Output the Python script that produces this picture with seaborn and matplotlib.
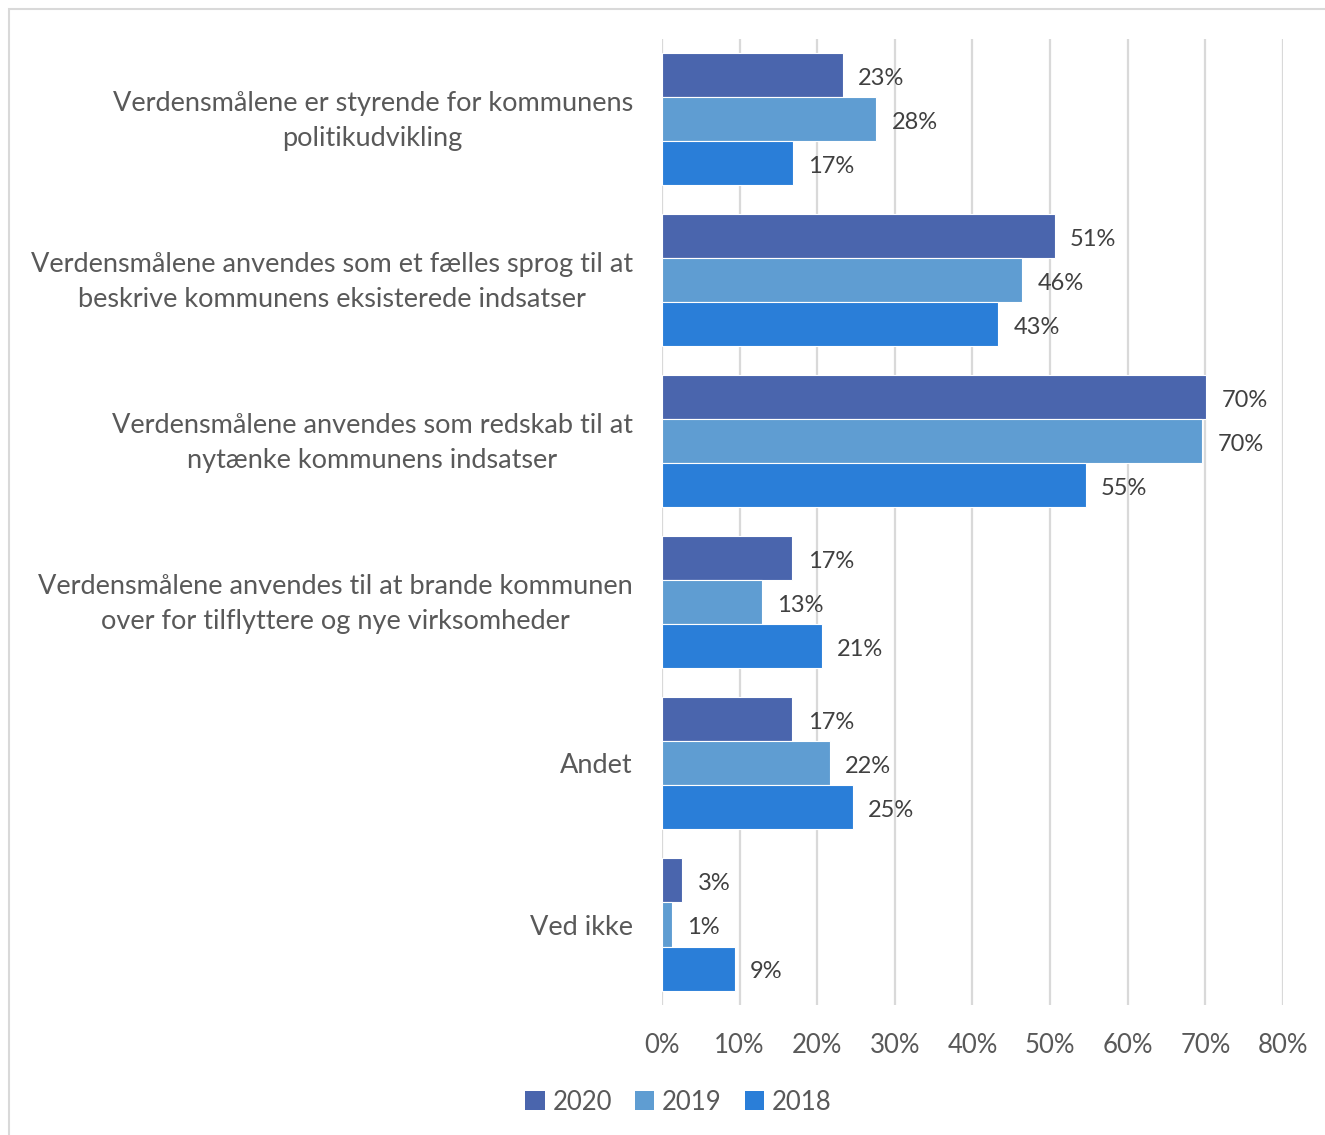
import matplotlib.pyplot as plt
import matplotlib.transforms as mtransforms
import pandas as pd
import seaborn as sns
from matplotlib.patches import Patch, Rectangle

# data
categories = [
    "Verdensmålene er styrende for kommunens\npolitikudvikling",
    "Verdensmålene anvendes som et fælles sprog til at\nbeskrive kommunens eksisterede indsatser",
    "Verdensmålene anvendes som redskab til at\nnytænke kommunens indsatser",
    "Verdensmålene anvendes til at brande kommunen\nover for tilflyttere og nye virksomheder",
    "Andet",
    "Ved ikke",
]
years = ["2020", "2019", "2018"]
values_2020 = [23.3, 50.6, 70.1, 16.8, 16.8, 2.6]
values_2019 = [27.6, 46.4, 69.6, 12.9, 21.6, 1.3]
values_2018 = [16.9, 43.3, 54.6, 20.6, 24.6, 9.4]
xticks = [0, 10, 20, 30, 40, 50, 60, 70, 80]

colors = ["#4A65AD", "#5F9DD2", "#2A7ED8"]

df = pd.DataFrame(
    {
        "kategori": categories * 3,
        "aar": [y for y in years for _ in categories],
        "andel": values_2020 + values_2019 + values_2018,
    }
)

sns.set_style("white")
plt.rcParams["font.family"] = ["Lato", "DejaVu Sans"]

fig = plt.figure(figsize=(13.25, 11.35), dpi=100)
ax = fig.add_axes([0.4996, 0.1145, 0.4687, 0.8515])

sns.barplot(
    data=df,
    x="andel",
    y="kategori",
    hue="aar",
    hue_order=years,
    order=categories,
    palette=colors,
    saturation=1,
    orient="h",
    width=0.82,
    edgecolor="white",
    linewidth=0.8,
    legend=False,
    ax=ax,
)

# Labels
for cont in ax.containers:
    texts = ax.bar_label(
        cont,
        labels=[f"{round(v)}%" for v in cont.datavalues],
        padding=11,
        fontsize=17,
        color="#404040",
    )
    for t in texts:
        t.xyann = (11, -2.2)

ax.set_xlim(0, 80)
ax.set_ylim(5.5, -0.5)
ax.set_xticks(xticks)
ax.set_xticklabels([f"{t}%" for t in xticks], fontsize=18.5, color="#595959")
ax.set_yticks(range(len(categories)))
ax.set_yticklabels(
    categories, fontsize=19.5, color="#595959", multialignment="center", linespacing=1.5
)
ax.tick_params(axis="x", length=0, pad=20)
ax.tick_params(axis="y", length=0, pad=21)
ax.set_xlabel("")
ax.set_ylabel("")

# to-linjede etiketter lidt op
up = mtransforms.ScaledTranslation(0, 6 / 100, fig.dpi_scale_trans)
for lbl in ax.get_yticklabels():
    if "\n" in lbl.get_text():
        lbl.set_transform(lbl.get_transform() + up)

ax.grid(axis="x", color="#D9D9D9", linewidth=1.6)
ax.set_axisbelow(True)
for spine in ax.spines.values():
    spine.set_visible(False)

# Legend
handles = [Patch(facecolor=c, edgecolor="none") for c in colors]
fig.legend(
    handles,
    years,
    loc="center",
    bbox_to_anchor=(0.512, 0.029),
    ncol=3,
    frameon=False,
    fontsize=18.5,
    labelcolor="#595959",
    handlelength=0.75,
    handleheight=0.75,
    handletextpad=0.3,
    columnspacing=0.9,
)

# ramme
fig.patches.append(
    Rectangle(
        (0.0068, -0.01),
        1.1,
        1.002,
        transform=fig.transFigure,
        fill=False,
        edgecolor="#D9D9D9",
        linewidth=1.5,
    )
)

fig.savefig("out.png", dpi=100, facecolor="white")
plt.close()
